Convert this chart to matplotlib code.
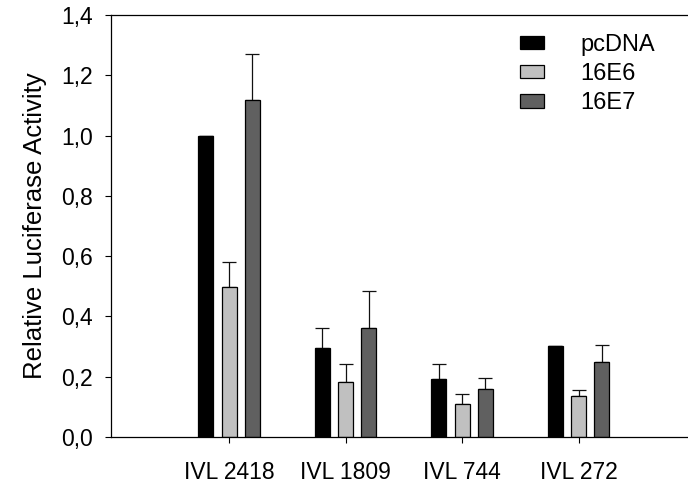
import matplotlib
matplotlib.use("Agg")
import matplotlib.pyplot as plt
import numpy as np

plt.rcParams['font.family'] = ['Liberation Sans', 'DejaVu Sans']

categories = ["IVL 2418", "IVL 1809", "IVL 744", "IVL 272"]
series_names = ["pcDNA", "16E6", "16E7"]
pcdna = [1.00, 0.294, 0.191, 0.302]
e6 = [0.499, 0.182, 0.110, 0.136]
e7 = [1.117, 0.360, 0.160, 0.248]
pcdna_err = [0.0, 0.066, 0.051, 0.0]
e6_err = [0.081, 0.059, 0.034, 0.020]
e7_err = [0.153, 0.125, 0.035, 0.058]
yticks = [0.0, 0.2, 0.4, 0.6, 0.8, 1.0, 1.2, 1.4]
ytick_labels = ["0,0", "0,2", "0,4", "0,6", "0,8", "1,0", "1,2", "1,4"]

W, H = 688, 483
fig = plt.figure(figsize=(W / 100, H / 100), dpi=100)
ax = fig.add_axes([111 / W, 46 / H, (W - 111) / W, 422 / H])

x = np.arange(len(categories))
width = 0.129
offset = 0.2
colors = ["#000000", "#c0c0c0", "#606060"]
vals = [pcdna, e6, e7]
errs = [pcdna_err, e6_err, e7_err]

for i, (v, e, c, name) in enumerate(zip(vals, errs, colors, series_names)):
    xpos = x + (i - 1) * offset
    ax.errorbar(xpos, v, yerr=[np.zeros(len(v)), e], fmt='none', ecolor='#111111',
                elinewidth=0.9, capsize=4.7, capthick=0.9, zorder=1)
    ax.bar(xpos, v, width=width, color=c, edgecolor='black', linewidth=0.9,
           label=name, zorder=2)

ax.set_xlim(-1.013, -1.013 + (W - 111) / 116.5)
ax.set_ylim(0, 1.4)
ax.set_yticks(yticks)
ax.set_yticklabels(ytick_labels, fontsize=16.5)
ax.set_xticks(x)
ax.set_xticklabels(categories, fontsize=16.5)
ax.tick_params(axis='both', direction='out', length=4.2, width=0.8, colors='black')
ax.tick_params(axis='x', pad=13)
ax.tick_params(axis='y', pad=9)
ax.set_ylabel("Relative Luciferase Activity", fontsize=18.5, labelpad=10)

for s in ['left', 'bottom', 'top']:
    ax.spines[s].set_linewidth(0.9)
ax.spines['right'].set_visible(False)

leg = ax.legend(loc='upper left', bbox_to_anchor=(520 / W, 1 - 34 / H),
                bbox_transform=fig.transFigure, frameon=False, fontsize=17,
                handlelength=1.02, handleheight=0.5, handletextpad=1.55,
                labelspacing=0.3, borderpad=0, borderaxespad=0)

fig.savefig("out.png", dpi=100)
